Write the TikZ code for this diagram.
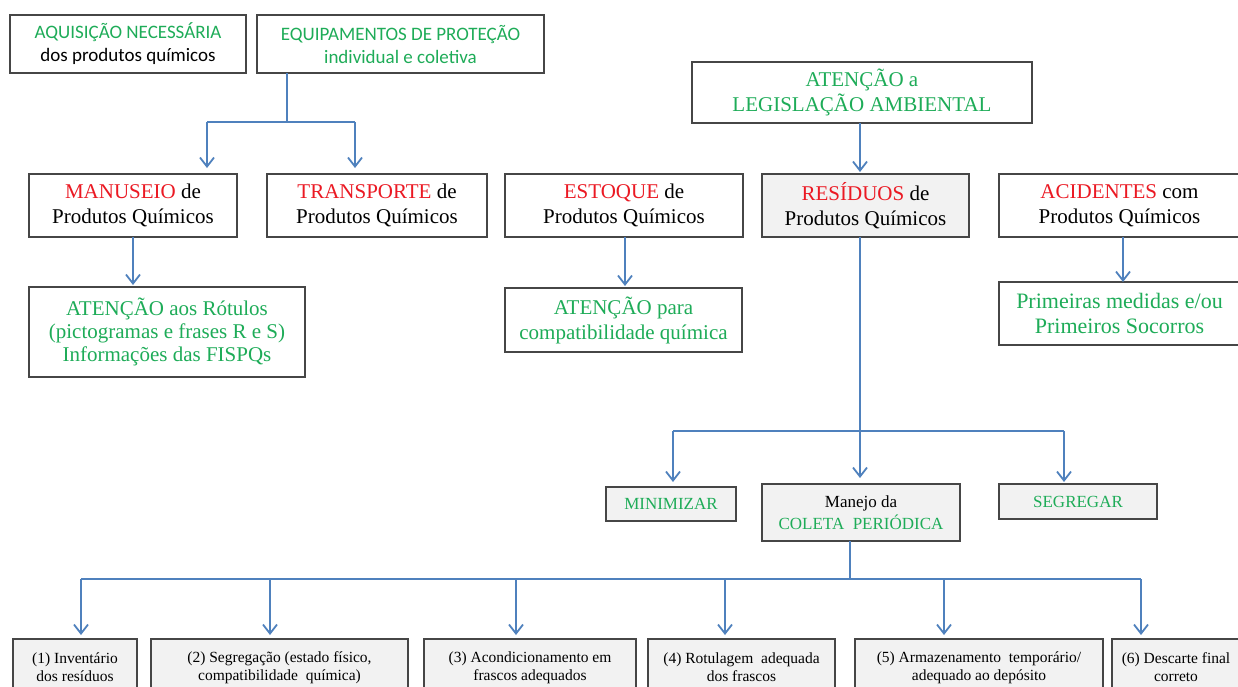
\documentclass[tikz,border=0pt]{standalone}
\usepackage{fontspec}
\setmainfont{Liberation Serif}
\newfontfamily\calfont{Carlito}
\usetikzlibrary{arrows.meta}
\definecolor{tgreen}{RGB}{30,172,88}
\definecolor{tred}{RGB}{235,25,35}
\definecolor{tblue}{RGB}{79,129,189}
\definecolor{tborder}{RGB}{70,70,70}
\definecolor{tfill}{RGB}{242,242,242}
\begin{document}
\begin{tikzpicture}[x=1pt,y=-1pt,
  box/.style={draw=tborder, line width=1.1pt, align=center, inner sep=0pt, outer sep=0pt},
  grayb/.style={box, fill=tfill},
  big/.style={font=\fontsize{21}{25}\selectfont},
  mid/.style={font=\fontsize{21}{23}\selectfont},
  wide/.style={font=\fontsize{22}{25}\selectfont},
  med/.style={font=\fontsize{17}{22}\selectfont},
  small/.style={font=\fontsize{15.5}{18}\selectfont},
  cal/.style={font=\calfont\fontsize{19}{23}\selectfont},
  conn/.style={draw=tblue, line width=1.8pt},
  arr/.style={conn, -{Straight Barb[length=9pt,width=14pt,line width=1.8pt]}},
]
\useasboundingbox (0,0) rectangle (1238,686);
\fill[white] (0,0) rectangle (1238,686);
\clip (0,0) rectangle (1238,686);

% top-left boxes
\node[box,cal,minimum width=236pt,minimum height=58pt] (aq) at (128,44)
  {\textcolor{tgreen}{AQUISIÇÃO NECESSÁRIA}\\dos produtos químicos};
\node[box,cal,minimum width=287pt,minimum height=58pt] (eq) at (400.5,44)
  {\textcolor{tgreen}{EQUIPAMENTOS DE PROTEÇÃO}\\\textcolor{tgreen}{individual e coletiva}};
\node[box,big,minimum width=340pt,minimum height=61pt] (leg) at (862,92.5)
  {\textcolor{tgreen}{ATENÇÃO a}\\\textcolor{tgreen}{LEGISLAÇÃO AMBIENTAL}};

% middle row
\node[box,big,minimum width=208pt,minimum height=63pt] (man) at (133,205.5)
  {\textcolor{tred}{MANUSEIO} de\\Produtos Químicos};
\node[box,big,minimum width=220pt,minimum height=63pt] (tra) at (377,205.5)
  {\textcolor{tred}{TRANSPORTE} de\\Produtos Químicos};
\node[box,big,minimum width=238pt,minimum height=63pt] (est) at (624,205.5)
  {\textcolor{tred}{ESTOQUE} de\\Produtos Químicos};
\node[grayb,big,minimum width=207pt,minimum height=63pt] (res) at (865.5,205.5)
  {\textcolor{tred}{RESÍDUOS} de\\Produtos Químicos};
\node[box,big,minimum width=241pt,minimum height=63pt] (aci) at (1119.5,205.5)
  {\textcolor{tred}{ACIDENTES} com\\Produtos Químicos};

% third row
\node[box,mid,minimum width=276pt,minimum height=90pt] (rot) at (167,332)
  {\textcolor{tgreen}{ATENÇÃO aos Rótulos}\\\textcolor{tgreen}{(pictogramas e frases R e S)}\\\textcolor{tgreen}{Informações das FISPQs}};
\node[box,big,minimum width=237pt,minimum height=64pt] (com) at (623.5,320)
  {\textcolor{tgreen}{ATENÇÃO para}\\\textcolor{tgreen}{compatibilidade química}};
\node[box,wide,minimum width=241pt,minimum height=63pt] (pri) at (1119.5,313.5)
  {\textcolor{tgreen}{Primeiras medidas e/ou}\\\textcolor{tgreen}{Primeiros Socorros}};

% waste handling row
\node[grayb,med,minimum width=130pt,minimum height=34pt] (min) at (671,504)
  {\textcolor{tgreen}{MINIMIZAR}};
\node[grayb,med,minimum width=198pt,minimum height=57pt] (mnj) at (861,512.5)
  {Manejo da\\\textcolor{tgreen}{COLETA\ \ PERIÓDICA}};
\node[grayb,med,minimum width=158pt,minimum height=35pt] (seg) at (1078,501.5)
  {\textcolor{tgreen}{SEGREGAR}};

% bottom steps
\node[grayb,small,minimum width=124pt,minimum height=57pt] (p1) at (75,667.5)
  {(1) Inventário\\dos resíduos};
\node[grayb,small,minimum width=257pt,minimum height=57pt] (p2) at (279.5,667.5)
  {(2) Segregação (estado físico,\\compatibilidade\ \ química)};
\node[grayb,small,minimum width=212pt,minimum height=57pt] (p3) at (530,667.5)
  {(3) Acondicionamento em\\frascos adequados};
\node[grayb,small,minimum width=187pt,minimum height=57pt] (p4) at (741.5,667.5)
  {(4) Rotulagem\ \ adequada\\dos frascos};
\node[grayb,small,minimum width=248pt,minimum height=57pt] (p5) at (979,667.5)
  {(5) Armazenamento\ \ temporário/\\adequado ao depósito};
\node[grayb,small,minimum width=128pt,minimum height=57pt] (p6) at (1176,667.5)
  {(6) Descarte final\\correto};

% connectors: top-left
\coordinate (j1) at (287,122);
\coordinate (jL) at (207,122);
\coordinate (jR) at (355,122);
\draw[conn] (eq.south -| j1) -- (j1);
\draw[conn] (jL) -- (jR);
\draw[arr,shorten >=6pt] (jL) -- (man.north -| jL);
\draw[arr,shorten >=6pt] (jR) -- (tra.north -| jR);
\coordinate (xm) at (133,0);
\draw[arr,shorten >=2pt] (man.south -| xm) -- (rot.north -| xm);

% connectors: stock, accidents
\coordinate (xe) at (625,0);
\draw[arr,shorten >=2pt] (est.south -| xe) -- (com.north -| xe);
\coordinate (xa) at (1123,0);
\draw[arr,shorten >=0pt] (aci.south -| xa) -- (pri.north -| xa);

% connectors: legislation and residues
\coordinate (xr) at (860,0);
\draw[arr,shorten >=2pt] (leg.south -| xr) -- (res.north -| xr);
\coordinate (jm) at (860,431);
\coordinate (jmL) at (673,431);
\coordinate (jmR) at (1064,431);
\draw[conn] (res.south -| xr) -- (jm);
\draw[conn] (jmL) -- (jmR);
\draw[arr,shorten >=5pt] (jmL) -- (min.north -| jmL);
\draw[arr,shorten >=6pt] (jm) -- (mnj.north -| jm);
\draw[arr,shorten >=2pt] (jmR) -- (seg.north -| jmR);

% connectors: bottom steps
\coordinate (xb) at (850,579);
\coordinate (b1) at (81,579);
\coordinate (b2) at (270,579);
\coordinate (b3) at (516,579);
\coordinate (b4) at (725,579);
\coordinate (b5) at (944,579);
\coordinate (b6) at (1141,579);
\draw[conn] (mnj.south -| xb) -- (xb);
\draw[conn] (b1) -- (b6);
\draw[arr,shorten >=4pt] (b1) -- (p1.north -| b1);
\draw[arr,shorten >=4pt] (b2) -- (p2.north -| b2);
\draw[arr,shorten >=4pt] (b3) -- (p3.north -| b3);
\draw[arr,shorten >=4pt] (b4) -- (p4.north -| b4);
\draw[arr,shorten >=4pt] (b5) -- (p5.north -| b5);
\draw[arr,shorten >=4pt] (b6) -- (p6.north -| b6);
\end{tikzpicture}
\end{document}
